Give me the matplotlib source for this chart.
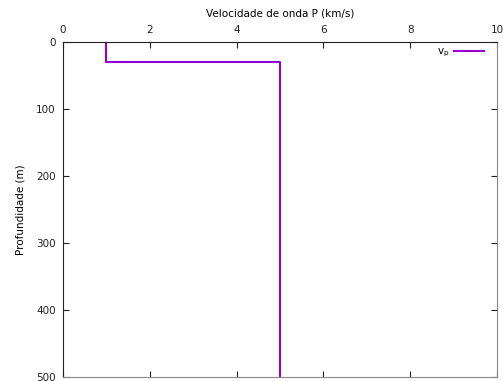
import matplotlib
matplotlib.use('Agg')
import matplotlib.pyplot as plt

# Velocity profile (step model)
vp = [1, 1, 5, 5]
depth = [0, 30, 30, 500]

x_ticks = [0, 2, 4, 6, 8, 10]
y_ticks = [0, 100, 200, 300, 400, 500]

plt.rcParams['font.family'] = 'DejaVu Sans'
plt.rcParams['font.size'] = 7.5

fig = plt.figure(figsize=(5.03, 3.81), dpi=100)
ax = fig.add_axes([0.125, 0.0105, 0.863, 0.8793])

ax.plot(vp, depth, color='#9400D3', lw=1.5, label=r'v$_\mathregular{p}$')

ax.set_xlim(0, 10)
ax.set_ylim(500, 0)
ax.set_xticks(x_ticks)
ax.set_yticks(y_ticks)

ax.xaxis.set_label_position('top')
ax.xaxis.tick_top()
ax.set_xlabel('Velocidade de onda P (km/s)', labelpad=6)
ax.set_ylabel('Profundidade (m)', labelpad=8)

ax.tick_params(direction='in', length=4, width=0.8, top=True, bottom=True,
               left=True, right=True, labeltop=True, labelbottom=False,
               labelleft=True, labelright=False, pad=5, colors='#222222')

for side in ['top', 'left']:
    ax.spines[side].set_color('#222222')
for side in ['bottom', 'right']:
    ax.spines[side].set_color('#888888')

leg = ax.legend(loc='upper right', bbox_to_anchor=(1.0, 1.024), frameon=False,
                markerfirst=False, handlelength=2.9, handletextpad=0.5,
                borderaxespad=0.8, fontsize=7.5)

fig.savefig('out.png', dpi=100)
